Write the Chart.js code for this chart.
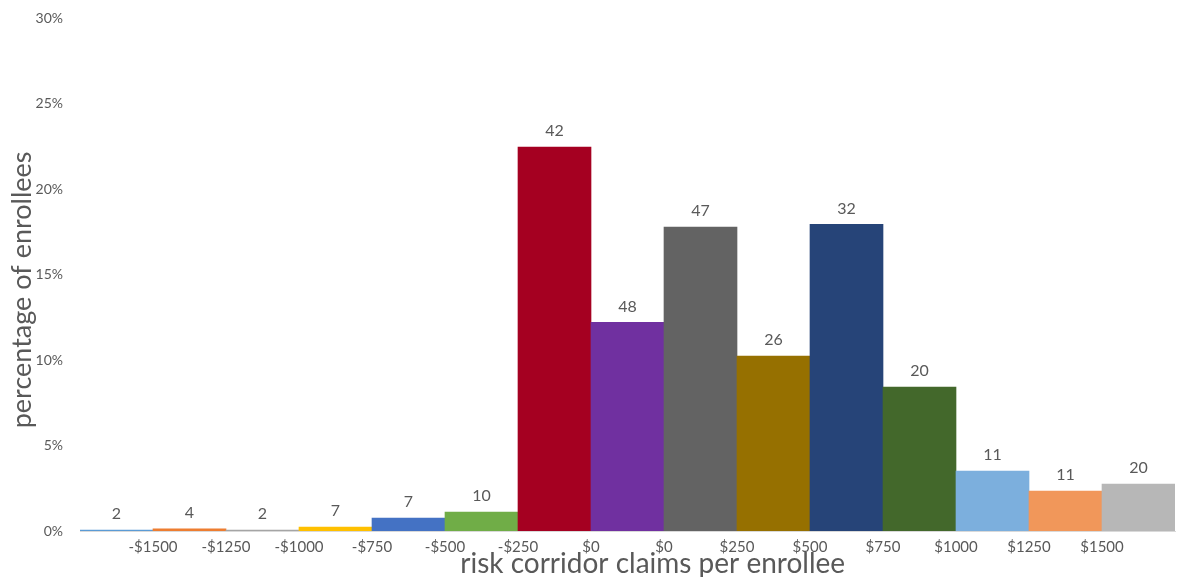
<!DOCTYPE html>
<html>
<head>
<meta charset="utf-8">
<script src="https://cdn.jsdelivr.net/npm/chart.js@4/dist/chart.umd.min.js"></script>
<style>
  body { margin: 0; background: #fff; }
  #wrap { width: 1178px; height: 577px; }
</style>
</head>
<body>
<div id="wrap"><canvas id="chart" width="1178" height="577"></canvas></div>
<script>
// bar buckets and boundary labels
const buckets = ['b1','b2','b3','b4','b5','b6','b7','b8','b9','b10','b11','b12','b13','b14','b15'];
const edgeLabels = ['-$1500','-$1250','-$1000','-$750','-$500','-$250','$0','$0','$250','$500','$750','$1000','$1250','$1500'];
const pctEnrollees = [0.06, 0.12, 0.06, 0.23, 0.76, 1.11, 22.45, 12.2, 17.78, 10.23, 17.93, 8.42, 3.5, 2.34, 2.75];
const counts = [2, 4, 2, 7, 7, 10, 42, 48, 47, 26, 32, 20, 11, 11, 20];
const barColors = ['#5B9BD5','#ED7D31','#A5A5A5','#FFC000','#4472C4','#70AD47','#A50021','#7030A0',
                   '#636363','#967000','#264478','#43682B','#7CAFDD','#F1975A','#B7B7B7'];
const xTitle = 'risk corridor claims per enrollee';
const yTitle = 'percentage of enrollees';

const txt = '#595959';
const font = 'Lato, "Open Sans", sans-serif';

// counts above each bar + axis titles (placed like the Excel original)
const extras = {
  id: 'extras',
  afterDatasetsDraw(chart) {
    const ctx = chart.ctx;
    const meta = chart.getDatasetMeta(0);
    const area = chart.chartArea;
    ctx.save();
    ctx.fillStyle = txt;
    ctx.font = '16px ' + font;
    ctx.textAlign = 'center';
    ctx.textBaseline = 'bottom';
    meta.data.forEach((bar, i) => {
      ctx.fillText(String(counts[i]), bar.x, bar.y - 8);
    });

    ctx.textBaseline = 'middle';
    ctx.font = '28px ' + font;
    ctx.fillText(xTitle, area.left + (area.right - area.left) * 0.523, area.bottom + 33);

    ctx.font = '27px ' + font;
    ctx.translate(22, area.top + (area.bottom - area.top) * 0.53);
    ctx.rotate(-Math.PI / 2);
    ctx.fillText(yTitle, 0, 0);
    ctx.restore();
  }
};

new Chart(document.getElementById('chart'), {
  type: 'bar',
  data: {
    labels: buckets,
    datasets: [{
      data: pctEnrollees,
      backgroundColor: barColors,
      barPercentage: 1,
      categoryPercentage: 1,
      borderWidth: 0
    }]
  },
  options: {
    responsive: false,
    animation: false,
    layout: { padding: { top: 18, right: 3, left: 0, bottom: 0 } },
    plugins: { legend: { display: false }, tooltip: { enabled: false } },
    scales: {
      x: { display: false },
      x2: {
        type: 'linear',
        position: 'bottom',
        offset: false,
        min: 0,
        max: 15,
        grid: { display: false, drawTicks: false },
        border: { color: '#D9D9D9', width: 1 },
        ticks: {
          stepSize: 1,
          autoSkip: false,
          maxRotation: 0,
          padding: 7,
          color: txt,
          font: { family: font, size: 15 },
          callback: v => (v >= 1 && v <= 14) ? edgeLabels[v - 1] : ''
        },
        afterFit: s => { s.height = 46; s.paddingLeft = 0; s.paddingRight = 0; }
      },
      y: {
        min: 0,
        max: 30,
        grid: { display: false, drawTicks: false },
        border: { display: false },
        ticks: {
          stepSize: 5,
          padding: 17,
          color: txt,
          font: { family: font, size: 14 },
          callback: v => v + '%'
        },
        afterFit: s => { s.width = 80; s.paddingTop = 0; s.paddingBottom = 0; }
      }
    }
  },
  plugins: [extras]
});
</script>
</body>
</html>
